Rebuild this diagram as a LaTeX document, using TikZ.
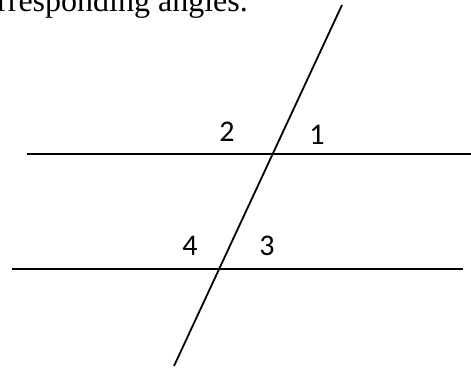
\documentclass[tikz,border=0pt]{standalone}
\usepackage{fontspec}
\setmainfont{Liberation Serif}
\newfontfamily\lblfont{Carlito}
\usetikzlibrary{positioning}

\begin{document}
\begin{tikzpicture}[x=1pt,y=-1pt,
   ln/.style={line width=1.8pt,black},
   ang/.style={font=\lblfont\fontsize{30}{34}\selectfont,inner sep=0pt}]
  \useasboundingbox (0,0) rectangle (471,370);
  \clip (0,0) rectangle (471,370);
  % caption, cut off at the top
  \node[anchor=base east,inner sep=0pt,font=\fontsize{32}{38}\selectfont] (cap) at (248,11) {corresponding angles.};
  % the two parallels and the transversal
  \coordinate (u1) at (27,154);
  \coordinate (u2) at (471,154);
  \coordinate (l1) at (12,269);
  \coordinate (l2) at (463,269);
  \coordinate (t1) at (342,5);
  \coordinate (t2) at (174,366);
  \draw[ln] (u1) -- (u2);
  \draw[ln] (l1) -- (l2);
  \draw[ln] (t1) -- (t2);
  % angle numbers
  \node[ang] (a2) at (227,132) {2};
  \node[ang] (a1) at (317,135) {1};
  \node[ang] (a4) at (190,246) {4};
  \node[ang] (a3) at (267,246) {3};
\end{tikzpicture}
\end{document}
